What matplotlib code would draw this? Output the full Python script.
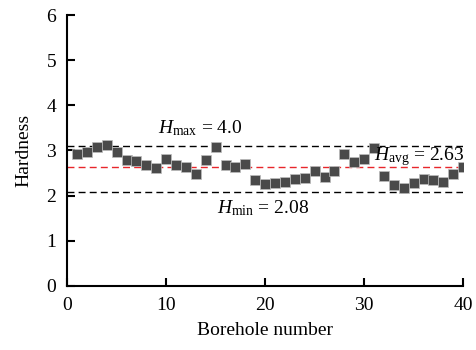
import matplotlib
matplotlib.use("Agg")
import matplotlib.pyplot as plt

plt.rcParams['font.family'] = ['Liberation Serif', 'DejaVu Serif']
plt.rcParams['mathtext.fontset'] = 'custom'
plt.rcParams['mathtext.rm'] = 'Liberation Serif'
plt.rcParams['mathtext.it'] = 'Liberation Serif:italic'

borehole = list(range(1, 41))
hardness = [2.93, 2.96, 3.07, 3.13, 2.96, 2.80, 2.76, 2.67, 2.61, 2.82,
            2.67, 2.64, 2.49, 2.79, 3.08, 2.68, 2.64, 2.71, 2.35, 2.25,
            2.27, 2.31, 2.37, 2.40, 2.54, 2.42, 2.55, 2.93, 2.75, 2.81,
            3.06, 2.43, 2.23, 2.16, 2.29, 2.37, 2.35, 2.30, 2.49, 2.63]
h_max_line = 3.10
h_avg = 2.63
h_min = 2.08

fig = plt.figure(figsize=(4.76, 3.5), dpi=100)
ax = fig.add_axes([0.141, 0.183, 0.832, 0.774])

ax.plot([0, 40], [h_max_line, h_max_line], color='black', ls=(0, (5, 3)), lw=1.0, zorder=1)
ax.plot([0, 40], [h_avg, h_avg], color='#e8262b', ls=(0, (5, 3)), lw=1.0, zorder=1)
ax.plot([0, 40], [h_min, h_min], color='black', ls=(0, (5, 3)), lw=1.0, zorder=1)

ax.scatter(borehole, hardness, marker='s', s=62, color='#4a4a4a',
           edgecolors='#bdbdbd', linewidths=0.5, zorder=3)

ax.text(9.2, 3.5, r'$H_{\rm max}$ = 4.0', fontsize=14, va='center', ha='left')
ax.text(31.0, 2.86, r'$H_{\rm avg}$ = 2.63', fontsize=14, va='center', ha='left')
ax.text(15.1, 1.73, r'$H_{\rm min}$ = 2.08', fontsize=14, va='center', ha='left')

ax.set_xlim(0, 40)
ax.set_ylim(0, 6)
ax.set_xticks([0, 10, 20, 30, 40])
ax.set_yticks([0, 1, 2, 3, 4, 5, 6])
ax.set_xlabel('Borehole number', fontsize=14, labelpad=6)
ax.set_ylabel('Hardness', fontsize=14, labelpad=10)
for s in ['top', 'right']:
    ax.spines[s].set_visible(False)
for s in ['left', 'bottom']:
    ax.spines[s].set_linewidth(1.5)
ax.tick_params(direction='in', length=6, width=1.5, labelsize=14, pad=8)

fig.savefig('out.png', dpi=100)
